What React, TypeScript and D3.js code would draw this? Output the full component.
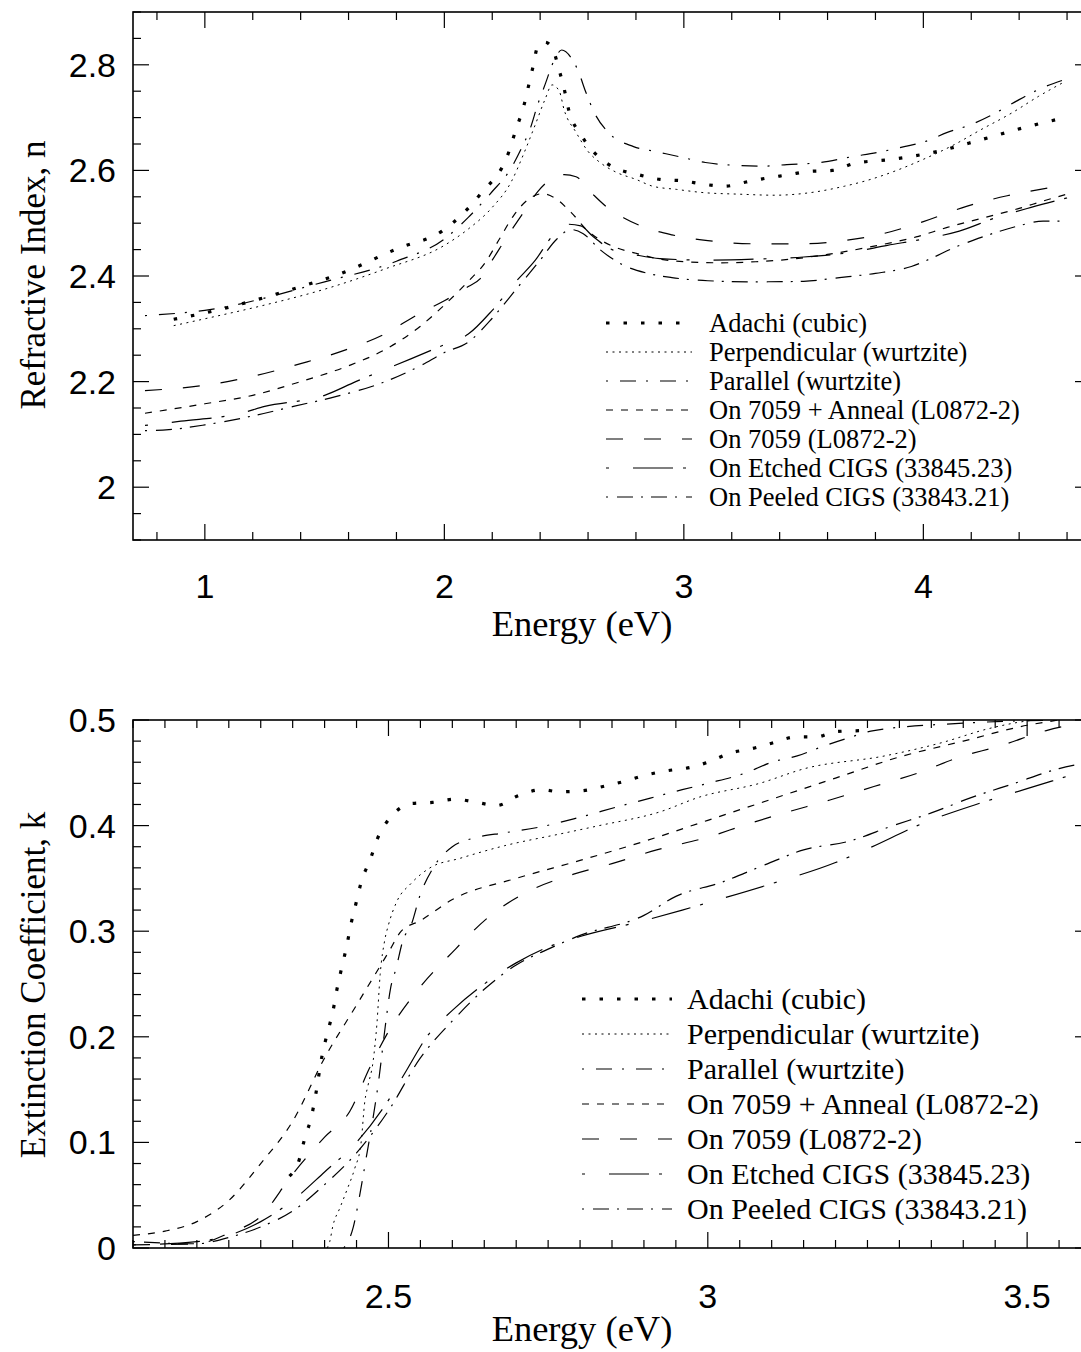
import React from "react";
import * as d3 from "d3";

type P = [number, number];

// ---------- Top panel: refractive index n vs energy ----------
const nAdachi: P[] = [[0.87,2.318],[1.0,2.33],[1.27,2.362],[1.45,2.387],[1.54,2.40],[1.81,2.453],[1.99,2.485],[2.15,2.555],[2.27,2.636],[2.30,2.679],[2.33,2.719],[2.35,2.757],[2.37,2.796],[2.39,2.835],[2.42,2.843],[2.45,2.832],[2.48,2.789],[2.50,2.755],[2.52,2.713],[2.57,2.668],[2.69,2.61],[2.81,2.592],[2.9,2.583],[3.0,2.58],[3.08,2.574],[3.17,2.57],[3.26,2.578],[3.34,2.585],[3.44,2.592],[3.52,2.598],[3.62,2.60],[3.71,2.613],[3.87,2.621],[4.06,2.636],[4.24,2.658],[4.42,2.681],[4.59,2.70]];
const nPerp: P[] = [[0.87,2.306],[1.0,2.319],[1.25,2.345],[1.5,2.375],[1.75,2.413],[2.0,2.458],[2.1,2.489],[2.2,2.53],[2.28,2.579],[2.33,2.63],[2.38,2.687],[2.42,2.734],[2.45,2.762],[2.48,2.75],[2.5,2.715],[2.55,2.672],[2.6,2.636],[2.65,2.615],[2.72,2.596],[2.8,2.583],[2.87,2.57],[2.97,2.564],[3.08,2.558],[3.23,2.555],[3.38,2.553],[3.53,2.558],[3.67,2.57],[3.78,2.583],[3.9,2.602],[4.0,2.621],[4.13,2.649],[4.24,2.677],[4.37,2.709],[4.48,2.74],[4.59,2.768]];
const nPara: P[] = [[0.75,2.325],[1.0,2.335],[1.5,2.389],[1.8,2.428],[2.0,2.47],[2.1,2.511],[2.2,2.56],[2.27,2.598],[2.32,2.64],[2.36,2.681],[2.39,2.725],[2.42,2.762],[2.46,2.81],[2.49,2.828],[2.53,2.813],[2.56,2.787],[2.59,2.749],[2.63,2.706],[2.68,2.674],[2.79,2.645],[2.88,2.636],[2.98,2.626],[3.09,2.615],[3.24,2.609],[3.33,2.608],[3.43,2.611],[3.57,2.615],[3.69,2.625],[3.83,2.636],[3.92,2.645],[4.01,2.655],[4.10,2.672],[4.2,2.687],[4.29,2.706],[4.4,2.734],[4.48,2.753],[4.59,2.772]];
const nAnneal: P[] = [[0.75,2.14],[1.0,2.158],[1.2,2.174],[1.4,2.2],[1.6,2.23],[1.75,2.26],[1.9,2.305],[2.0,2.345],[2.1,2.39],[2.17,2.425],[2.23,2.47],[2.29,2.515],[2.35,2.545],[2.41,2.556],[2.46,2.548],[2.53,2.52],[2.6,2.485],[2.7,2.457],[2.8,2.443],[2.9,2.432],[3.0,2.427],[3.15,2.425],[3.3,2.427],[3.45,2.432],[3.6,2.441],[3.8,2.457],[3.97,2.474],[4.1,2.492],[4.25,2.51],[4.4,2.528],[4.5,2.542],[4.6,2.555]];
const n7059: P[] = [[0.75,2.183],[0.85,2.186],[1.0,2.193],[1.2,2.21],[1.4,2.234],[1.6,2.262],[1.75,2.29],[1.9,2.33],[2.0,2.353],[2.1,2.38],[2.15,2.395],[2.2,2.43],[2.27,2.48],[2.33,2.52],[2.39,2.56],[2.45,2.585],[2.5,2.592],[2.55,2.588],[2.62,2.555],[2.68,2.53],[2.75,2.51],[2.85,2.49],[2.95,2.478],[3.1,2.467],[3.3,2.461],[3.5,2.461],[3.65,2.466],[3.83,2.48],[4.0,2.503],[4.18,2.532],[4.35,2.552],[4.5,2.565],[4.6,2.572]];
const nEtched: P[] = [[0.75,2.117],[0.9,2.125],[1.15,2.14],[1.25,2.153],[1.5,2.174],[1.63,2.2],[1.86,2.243],[2.0,2.27],[2.1,2.29],[2.2,2.335],[2.3,2.39],[2.38,2.43],[2.45,2.475],[2.52,2.498],[2.57,2.495],[2.62,2.475],[2.7,2.45],[2.8,2.44],[2.9,2.433],[3.1,2.43],[3.3,2.432],[3.5,2.436],[3.7,2.445],[3.85,2.458],[4.0,2.47],[4.15,2.485],[4.3,2.51],[4.45,2.53],[4.6,2.548]];
const nPeeled: P[] = [[0.75,2.107],[0.85,2.109],[1.0,2.118],[1.2,2.135],[1.37,2.153],[1.55,2.172],[1.73,2.196],[1.9,2.23],[2.0,2.255],[2.1,2.275],[2.2,2.32],[2.3,2.375],[2.4,2.43],[2.47,2.47],[2.53,2.488],[2.58,2.48],[2.65,2.45],[2.75,2.42],[2.85,2.405],[2.95,2.397],[3.1,2.391],[3.3,2.389],[3.5,2.39],[3.65,2.397],[3.8,2.405],[3.95,2.418],[4.05,2.437],[4.12,2.452],[4.21,2.468],[4.3,2.482],[4.39,2.494],[4.5,2.504],[4.6,2.504]];

// ---------- Bottom panel: extinction coefficient k vs energy ----------
const kAdachi: P[] = [[2.345,0.068],[2.36,0.083],[2.369,0.104],[2.38,0.126],[2.386,0.145],[2.396,0.182],[2.405,0.205],[2.413,0.224],[2.419,0.244],[2.427,0.266],[2.435,0.287],[2.441,0.306],[2.449,0.326],[2.458,0.348],[2.471,0.367],[2.483,0.388],[2.502,0.407],[2.538,0.421],[2.569,0.422],[2.604,0.425],[2.638,0.422],[2.67,0.419],[2.702,0.428],[2.74,0.434],[2.768,0.432],[2.803,0.433],[2.839,0.4375],[2.87,0.442],[2.904,0.448],[2.937,0.452],[2.972,0.455],[3.0,0.46],[3.037,0.469],[3.07,0.473],[3.1,0.478],[3.139,0.484],[3.17,0.484],[3.2,0.489],[3.25,0.49]];
const kPerp: P[] = [[2.404,0.0],[2.408,0.006],[2.413,0.021],[2.424,0.038],[2.435,0.055],[2.447,0.075],[2.457,0.099],[2.463,0.139],[2.468,0.154],[2.476,0.177],[2.482,0.213],[2.487,0.259],[2.494,0.291],[2.5,0.306],[2.513,0.328],[2.535,0.345],[2.565,0.36],[2.612,0.369],[2.682,0.381],[2.768,0.392],[2.83,0.40],[2.925,0.413],[2.987,0.427],[3.081,0.44],[3.152,0.454],[3.277,0.466],[3.363,0.478],[3.441,0.492],[3.488,0.498],[3.55,0.502]];
const kPara: P[] = [[2.43,0.0],[2.445,0.02],[2.455,0.05],[2.465,0.085],[2.475,0.12],[2.485,0.16],[2.495,0.21],[2.503,0.245],[2.512,0.265],[2.523,0.292],[2.535,0.305],[2.55,0.335],[2.57,0.36],[2.6,0.38],[2.64,0.389],[2.68,0.393],[2.74,0.399],[2.8,0.408],[2.86,0.418],[2.91,0.426],[2.96,0.434],[3.0,0.44],[3.06,0.45],[3.1,0.46],[3.14,0.466],[3.18,0.475],[3.22,0.483],[3.26,0.49],[3.4,0.497],[3.55,0.5]];
const kAnneal: P[] = [[2.1,0.012],[2.15,0.016],[2.2,0.025],[2.25,0.045],[2.3,0.08],[2.35,0.12],[2.4,0.18],[2.45,0.23],[2.5,0.28],[2.52,0.30],[2.55,0.31],[2.6,0.33],[2.7,0.35],[2.8,0.367],[2.9,0.385],[3.0,0.405],[3.1,0.425],[3.2,0.445],[3.3,0.465],[3.4,0.48],[3.5,0.495],[3.55,0.5]];
const k7059: P[] = [[2.1,0.003],[2.2,0.004],[2.25,0.014],[2.3,0.03],[2.35,0.07],[2.4,0.105],[2.44,0.13],[2.47,0.17],[2.5,0.205],[2.54,0.24],[2.6,0.28],[2.66,0.315],[2.72,0.338],[2.79,0.354],[2.85,0.364],[2.92,0.377],[3.0,0.389],[3.06,0.401],[3.12,0.412],[3.19,0.424],[3.26,0.437],[3.33,0.45],[3.39,0.464],[3.46,0.476],[3.53,0.49],[3.58,0.497]];
const kEtched: P[] = [[2.1,0.003],[2.2,0.006],[2.25,0.012],[2.3,0.025],[2.35,0.045],[2.4,0.072],[2.45,0.1],[2.5,0.14],[2.53,0.17],[2.56,0.2],[2.6,0.225],[2.65,0.25],[2.7,0.27],[2.75,0.285],[2.8,0.295],[2.9,0.31],[2.96,0.32],[3.0,0.327],[3.1,0.345],[3.2,0.365],[3.25,0.378],[3.34,0.403],[3.42,0.42],[3.5,0.435],[3.58,0.45]];
const kPeeled: P[] = [[2.1,0.006],[2.2,0.004],[2.25,0.01],[2.3,0.02],[2.35,0.035],[2.4,0.06],[2.45,0.09],[2.5,0.13],[2.55,0.18],[2.6,0.215],[2.65,0.245],[2.7,0.268],[2.75,0.283],[2.8,0.296],[2.9,0.315],[2.95,0.333],[3.02,0.346],[3.09,0.363],[3.15,0.377],[3.22,0.385],[3.29,0.4],[3.35,0.412],[3.41,0.426],[3.48,0.44],[3.55,0.454],[3.58,0.458]];

const seriesNames = [
  "Adachi (cubic)",
  "Perpendicular (wurtzite)",
  "Parallel (wurtzite)",
  "On 7059 + Anneal (L0872-2)",
  "On 7059 (L0872-2)",
  "On Etched CIGS (33845.23)",
  "On Peeled CIGS (33843.21)",
];

const topXTicks = [1, 2, 3, 4];
const topYTicks = [2, 2.2, 2.4, 2.6, 2.8];
const botXTicks = [2.5, 3, 3.5];
const botYTicks = [0, 0.1, 0.2, 0.3, 0.4, 0.5];

const styles = [
  { w: 3.2, dash: "3.5,14" },
  { w: 1, dash: "2,4.5" },
  { w: 1.2, dash: "2,12,16,10" },
  { w: 1.2, dash: "7,8" },
  { w: 1.2, dash: "17,21" },
  { w: 1.2, dash: "3,24,40,10" },
  { w: 1.2, dash: "2,9,16,8,2,8,16,8" },
];

const LEFT = 133;
const RIGHT = 1091;

function Panel(props: {
  id: string;
  top: number;
  bottom: number;
  xDomain: [number, number];
  yDomain: [number, number];
  data: P[][];
  xTicks: number[];
  xMinor: number;
  yTicks: number[];
  yMinor: number;
  fmtX: (v: number) => string;
  fmtY: (v: number) => string;
  yTitle: string;
  yTitleY: number;
  legendX0: number;
  legendX1: number;
  legendTextX: number;
  legendY0: number;
  legendDY: number;
  legendFont: number;
  xLabelY: number;
  xTitleY: number;
}) {
  const p = props;
  const x = d3.scaleLinear().domain(p.xDomain).range([LEFT, RIGHT]);
  const y = d3.scaleLinear().domain(p.yDomain).range([p.bottom, p.top]);
  const line = d3
    .line<P>()
    .x((d) => x(d[0]))
    .y((d) => y(d[1]))
    .curve(d3.curveMonotoneX);

  const eps = 1e-6;
  const minorX = d3.range(
    Math.ceil(p.xDomain[0] / p.xMinor - eps) * p.xMinor,
    p.xDomain[1] + eps,
    p.xMinor
  );
  const minorY = d3.range(
    Math.ceil(p.yDomain[0] / p.yMinor - eps) * p.yMinor,
    p.yDomain[1] + eps,
    p.yMinor
  );
  const isMajor = (v: number, list: number[]) =>
    list.some((t) => Math.abs(t - v) < 1e-6);
  const majLen = 16;
  const minLen = 8;
  const tickFont = "'Liberation Sans Narrow', 'Liberation Sans', Arial, sans-serif";
  const serif = "'Liberation Serif', 'Times New Roman', serif";

  return (
    <g>
      <defs>
        <clipPath id={p.id}>
          <rect x={LEFT} y={p.top} width={RIGHT - LEFT} height={p.bottom - p.top} />
        </clipPath>
      </defs>
      <g stroke="#000" strokeWidth={1.2}>
        {minorX.map((v, i) => {
          const L = isMajor(v, p.xTicks) ? majLen : minLen;
          const xx = x(v);
          return (
            <g key={"x" + i}>
              <line x1={xx} x2={xx} y1={p.bottom} y2={p.bottom - L} />
              <line x1={xx} x2={xx} y1={p.top} y2={p.top + L} />
            </g>
          );
        })}
        {minorY.map((v, i) => {
          const L = isMajor(v, p.yTicks) ? majLen : minLen;
          const yy = y(v);
          return (
            <g key={"y" + i}>
              <line x1={LEFT} x2={LEFT + L} y1={yy} y2={yy} />
              <line x1={RIGHT} x2={RIGHT - L} y1={yy} y2={yy} />
            </g>
          );
        })}
      </g>
      <rect
        x={LEFT}
        y={p.top}
        width={RIGHT - LEFT}
        height={p.bottom - p.top}
        fill="none"
        stroke="#000"
        strokeWidth={1.6}
      />
      <g fontFamily={tickFont} fontSize={34} fill="#000">
        {p.xTicks.map((v) => (
          <text key={"xl" + v} x={x(v)} y={p.xLabelY} textAnchor="middle">
            {p.fmtX(v)}
          </text>
        ))}
        {p.yTicks.map((v) => (
          <text key={"yl" + v} x={116} y={y(v) + 12} textAnchor="end">
            {p.fmtY(v)}
          </text>
        ))}
      </g>
      <text
        x={582}
        y={p.xTitleY}
        textAnchor="middle"
        fontFamily={serif}
        fontSize={36.5}
      >
        Energy (eV)
      </text>
      <text
        transform={`translate(45,${p.yTitleY}) rotate(-90)`}
        textAnchor="middle"
        fontFamily={serif}
        fontSize={35}
      >
        {p.yTitle}
      </text>
      <g clipPath={`url(#${p.id})`} fill="none" stroke="#000">
        {p.data.map((d, i) => (
          <path
            key={i}
            d={line(d) || ""}
            strokeWidth={styles[i].w}
            strokeDasharray={styles[i].dash}
          />
        ))}
      </g>
      <g>
        {seriesNames.map((name, i) => {
          const yy = p.legendY0 + i * p.legendDY;
          return (
            <g key={name}>
              <line
                x1={p.legendX0}
                x2={p.legendX1}
                y1={yy}
                y2={yy}
                stroke="#000"
                strokeWidth={styles[i].w}
                strokeDasharray={styles[i].dash}
              />
              <text
                x={p.legendTextX}
                y={yy + p.legendFont * 0.33}
                fontFamily={serif}
                fontSize={p.legendFont}
              >
                {name}
              </text>
            </g>
          );
        })}
      </g>
    </g>
  );
}

export default function App() {
  const topData = [nAdachi, nPerp, nPara, nAnneal, n7059, nEtched, nPeeled];
  const botData = [kAdachi, kPerp, kPara, kAnneal, k7059, kEtched, kPeeled];
  return (
    <svg
      width={1081}
      height={1352}
      style={{ position: "absolute", left: 0, top: 0, background: "#fff" }}
    >
      <rect x={0} y={0} width={1081} height={1352} fill="#fff" />
      <Panel
        id="clipTop"
        top={12}
        bottom={540}
        xDomain={[0.7, 4.7]}
        yDomain={[1.9, 2.9]}
        data={topData}
        xTicks={topXTicks}
        xMinor={0.2}
        yTicks={topYTicks}
        yMinor={0.05}
        fmtX={(v) => String(v)}
        fmtY={(v) => (Math.abs(v - 2) < 1e-9 ? "2" : v.toFixed(1))}
        yTitle="Refractive Index, n"
        yTitleY={275}
        legendX0={606}
        legendX1={692}
        legendTextX={709}
        legendY0={323}
        legendDY={29}
        legendFont={26.5}
        xLabelY={598}
        xTitleY={636}
      />
      <Panel
        id="clipBot"
        top={720}
        bottom={1248}
        xDomain={[2.1, 3.6]}
        yDomain={[0, 0.5]}
        data={botData}
        xTicks={botXTicks}
        xMinor={0.05}
        yTicks={botYTicks}
        yMinor={0.02}
        fmtX={(v) => String(v)}
        fmtY={(v) => (v === 0 ? "0" : v.toFixed(1))}
        yTitle="Extinction Coefficient, k"
        yTitleY={985}
        legendX0={582}
        legendX1={672}
        legendTextX={687}
        legendY0={999}
        legendDY={35}
        legendFont={30}
        xLabelY={1308}
        xTitleY={1341}
      />
    </svg>
  );
}
